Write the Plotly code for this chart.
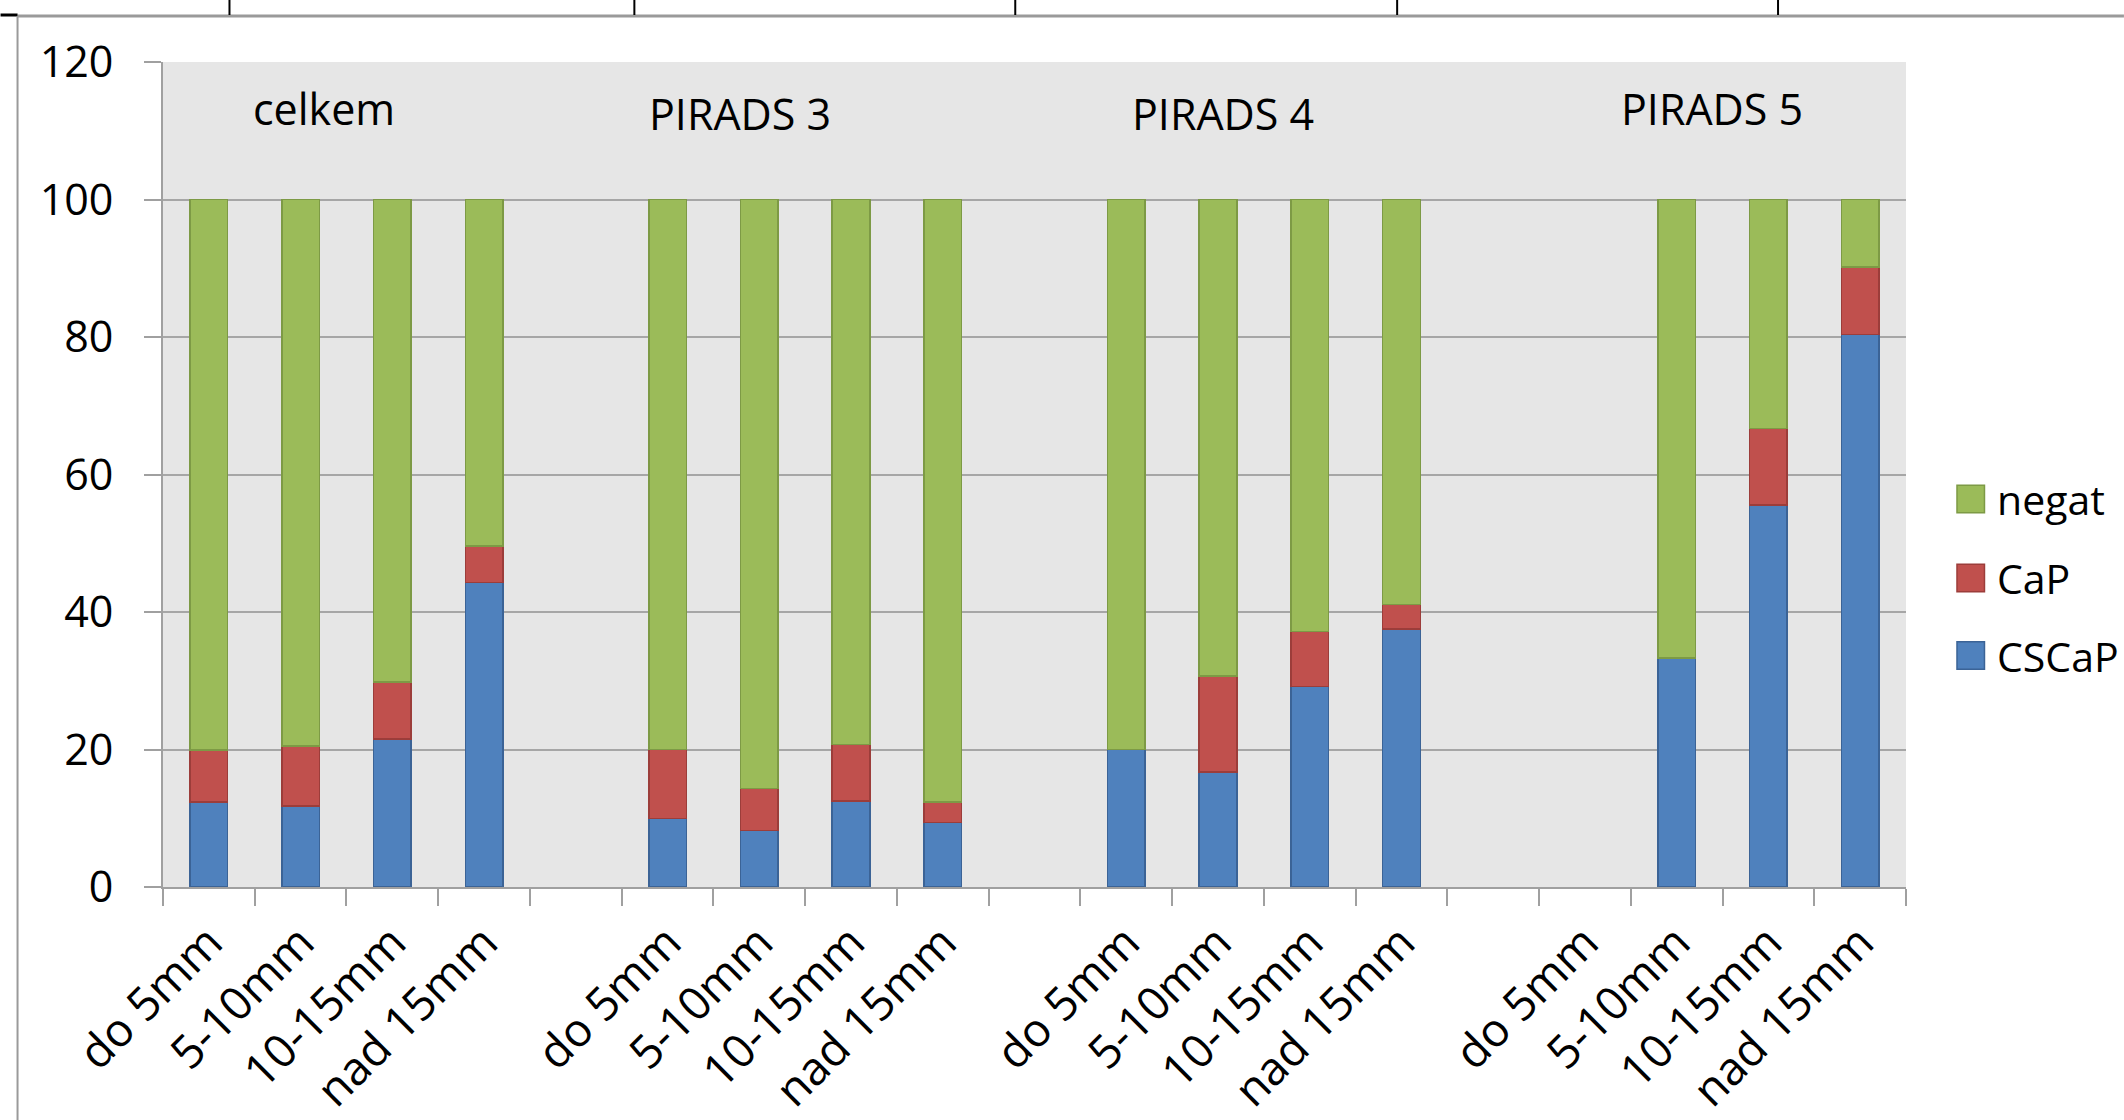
import plotly.graph_objects as go

# ---------------- data ----------------
categories = ["do 5mm", "5-10mm", "10-15mm", "nad 15mm", "",
              "do 5mm", "5-10mm", "10-15mm", "nad 15mm", "",
              "do 5mm", "5-10mm", "10-15mm", "nad 15mm", "",
              "do 5mm", "5-10mm", "10-15mm", "nad 15mm"]
cscap = [12.4, 11.8, 21.5, 44.3, None,
         10.0, 8.2, 12.5, 9.4, None,
         20.0, 16.7, 29.2, 37.5, None,
         None, 33.3, 55.6, 80.4]
cap = [7.5, 8.7, 8.3, 5.3, None,
       10.0, 6.1, 8.2, 3.0, None,
       None, 14.0, 8.0, 3.6, None,
       None, None, 11.1, 9.8]
negat = [80.1, 79.5, 70.2, 50.4, None,
         80.0, 85.7, 79.3, 87.6, None,
         80.0, 69.3, 62.8, 58.9, None,
         None, 66.7, 33.3, 9.8]
series_names = ["CSCaP", "CaP", "negat"]
group_labels = ["celkem", "PIRADS 3", "PIRADS 4", "PIRADS 5"]
y_ticks = [0, 20, 40, 60, 80, 100, 120]

# ---------------- styling ----------------
W, H = 2124, 1120
PL, PR, PT, PB = 162.5, 1906.0, 62.0, 887.0   # plot area in pixels
FONT = "Open Sans"
FS = 43
fills = {"CSCaP": "#4F81BD", "CaP": "#C0504D", "negat": "#9BBB59"}
edges = {"CSCaP": "#3B6396", "CaP": "#9C3D3A", "negat": "#7D9A45"}
values = {"CSCaP": cscap, "CaP": cap, "negat": negat}


def px_x(p):
    return (p - PL) / (PR - PL)


def px_y(p):
    return (PB - p) / (PB - PT)


xpos = list(range(len(categories)))

fig = go.Figure()
for name in series_names:
    fig.add_trace(go.Bar(
        x=xpos, y=values[name], name=name,
        marker=dict(color=fills[name], line=dict(color=edges[name], width=1.5)),
        width=0.41, showlegend=False,
    ))

annotations = []
# group labels inside plot
group_pos = [(1.25, 113.3), (5.79, 112.5), (11.05, 112.5), (16.38, 113.3)]
for lab, (gx, gy) in zip(group_labels, group_pos):
    annotations.append(dict(x=gx, y=gy, xref="x", yref="y", text=lab,
                            showarrow=False, font=dict(family=FONT, size=FS, color="black"),
                            xanchor="center", yanchor="middle"))

shapes = []
# custom legend (reversed order: negat on top)
leg_y = [499, 578, 655.5]
for name, cy in zip(reversed(series_names), leg_y):
    shapes.append(dict(type="rect", xref="paper", yref="paper",
                       x0=px_x(1957), x1=px_x(1984.5), y0=px_y(cy + 13.75), y1=px_y(cy - 13.75),
                       fillcolor=fills[name], line=dict(color=edges[name], width=1.5)))
    annotations.append(dict(x=px_x(1995), y=px_y(cy), xref="paper", yref="paper", text=name,
                            showarrow=False, xanchor="left", yanchor="middle",
                            font=dict(family=FONT, size=41, color="black")))

# outer frame / table remnants
shapes.append(dict(type="line", xref="paper", yref="paper",
                   x0=px_x(17), x1=px_x(W), y0=px_y(16), y1=px_y(16),
                   line=dict(color="#9A9A9A", width=3)))
shapes.append(dict(type="line", xref="paper", yref="paper",
                   x0=px_x(0), x1=px_x(17), y0=px_y(15), y1=px_y(15),
                   line=dict(color="black", width=3)))
shapes.append(dict(type="line", xref="paper", yref="paper",
                   x0=px_x(17), x1=px_x(17), y0=px_y(16), y1=px_y(H),
                   line=dict(color="#9A9A9A", width=2)))
for vx in [229, 634, 1015, 1397, 1778]:
    shapes.append(dict(type="line", xref="paper", yref="paper",
                       x0=px_x(vx), x1=px_x(vx), y0=px_y(0), y1=px_y(15),
                       line=dict(color="black", width=2)))

fig.update_layout(
    template="none",
    width=W, height=H,
    margin=dict(l=PL, r=W - PR, t=PT, b=H - PB, pad=0),
    paper_bgcolor="white",
    plot_bgcolor="#E6E6E6",
    barmode="stack",
    showlegend=False,
    font=dict(family=FONT, size=FS, color="black"),
    annotations=annotations,
    shapes=shapes,
    xaxis=dict(
        range=[-0.5, len(categories) - 0.5],
        tickmode="array", tickvals=xpos, ticktext=categories,
        tickangle=-45, ticks="", showgrid=False, zeroline=False,
        showline=True, linecolor="#A0A0A0", linewidth=2,
        tickfont=dict(family=FONT, size=46, color="black"),
        ticklabelstandoff=8,
        minor=dict(tick0=-0.5, dtick=1, ticks="outside", ticklen=17,
                   tickcolor="#A0A0A0", tickwidth=2, showgrid=False),
        automargin=False, fixedrange=True,
    ),
    yaxis=dict(
        range=[0, 120], tickmode="array", tickvals=y_ticks,
        ticks="outside", ticklen=17, tickcolor="#A0A0A0", tickwidth=2,
        showgrid=True, gridcolor="#A6A6A6", gridwidth=2,
        zeroline=False, showline=True, linecolor="#A0A0A0", linewidth=2,
        tickfont=dict(family=FONT, size=FS, color="black"),
        ticklabelstandoff=22,
        automargin=False, fixedrange=True,
    ),
)

fig.write_html("out.html",
               config={"displayModeBar": False},
               post_script="document.body.style.margin='0';document.body.style.overflow='hidden';")
